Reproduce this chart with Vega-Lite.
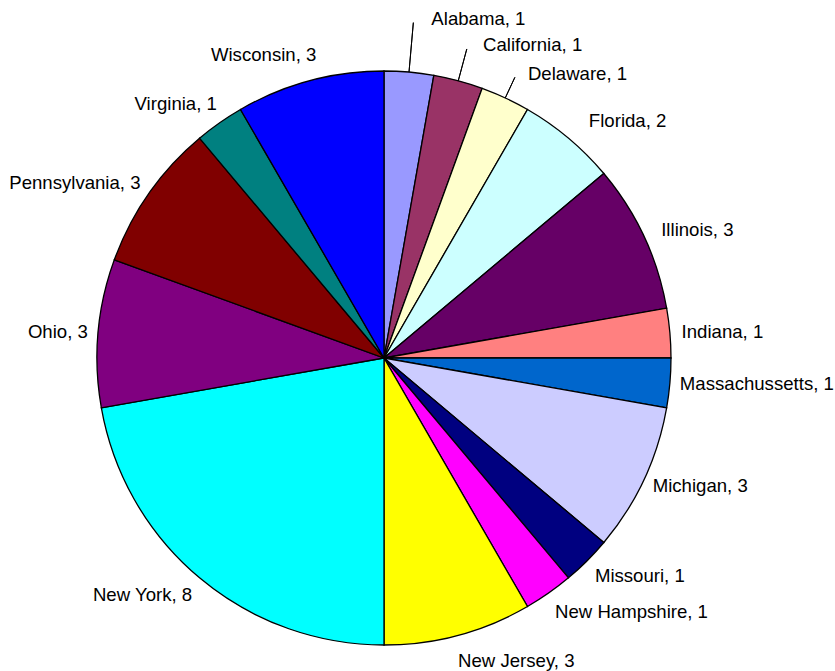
{
  "$schema": "https://vega.github.io/schema/vega-lite/v6.json",
  "width": 768,
  "height": 626,
  "autosize": "none",
  "padding": {"left": 0, "top": 45, "right": 67, "bottom": 0},
  "background": "white",
  "config": {"view": {"stroke": null}},
  "data": {
    "values": [
      {"state": "Alabama", "value": 1, "label": "Alabama, 1"},
      {"state": "California", "value": 1, "label": "California, 1"},
      {"state": "Delaware", "value": 1, "label": "Delaware, 1"},
      {"state": "Florida", "value": 2, "label": "Florida, 2"},
      {"state": "Illinois", "value": 3, "label": "Illinois, 3"},
      {"state": "Indiana", "value": 1, "label": "Indiana, 1"},
      {"state": "Massachussetts", "value": 1, "label": "Massachussetts, 1"},
      {"state": "Michigan", "value": 3, "label": "Michigan, 3"},
      {"state": "Missouri", "value": 1, "label": "Missouri, 1"},
      {"state": "New Hampshire", "value": 1, "label": "New Hampshire, 1"},
      {"state": "New Jersey", "value": 3, "label": "New Jersey, 3"},
      {"state": "New York", "value": 8, "label": "New York, 8"},
      {"state": "Ohio", "value": 3, "label": "Ohio, 3"},
      {"state": "Pennsylvania", "value": 3, "label": "Pennsylvania, 3"},
      {"state": "Virginia", "value": 1, "label": "Virginia, 1"},
      {"state": "Wisconsin", "value": 3, "label": "Wisconsin, 3"}
    ]
  },
  "layer": [
    {
      "mark": {"type": "arc", "outerRadius": 287, "stroke": "black", "strokeWidth": 1.3},
      "encoding": {
        "theta": {"field": "value", "type": "quantitative", "stack": true},
        "order": {"field": "state", "type": "ordinal", "sort": "ascending"},
        "color": {
          "field": "state",
          "type": "nominal",
          "legend": null,
          "scale": {
            "domain": ["Alabama", "California", "Delaware", "Florida", "Illinois", "Indiana", "Massachussetts", "Michigan", "Missouri", "New Hampshire", "New Jersey", "New York", "Ohio", "Pennsylvania", "Virginia", "Wisconsin"],
            "range": ["#9999FF", "#993366", "#FFFFCC", "#CCFFFF", "#660066", "#FF8080", "#0066CC", "#CCCCFF", "#000080", "#FF00FF", "#FFFF00", "#00FFFF", "#800080", "#800000", "#008080", "#0000FF"]
          }
        }
      }
    },
    {
      "transform": [
        {"stack": "value", "groupby": [], "sort": [{"field": "state", "order": "ascending"}], "as": ["s", "e"]},
        {"filter": "sin(PI*(datum.s+datum.e)/36) > 0 && cos(PI*(datum.s+datum.e)/36) > 0.85"}
      ],
      "mark": {
        "type": "arc",
        "theta": {"expr": "PI*(datum.s+datum.e)/36"},
        "theta2": {"expr": "PI*(datum.s+datum.e)/36"},
        "innerRadius": 287,
        "outerRadius": {"expr": "290 + 20*abs(cos(PI*(datum.s+datum.e)/36)) + 30*pow(cos(PI*(datum.s+datum.e)/36), 30)"},
        "fill": null,
        "stroke": "black",
        "strokeWidth": 1
      },
      "encoding": {}
    },
    {
      "mark": {
        "type": "text",
        "font": "Liberation Sans",
        "fontSize": 18.6,
        "fill": "black",
        "baseline": "middle",
        "radius": {"expr": "294 + 20*abs(cos(PI*(datum.value_start+datum.value_end)/36)) + ((sin(PI*(datum.value_start+datum.value_end)/36) > 0 && cos(PI*(datum.value_start+datum.value_end)/36) > 0) ? 30*pow(cos(PI*(datum.value_start+datum.value_end)/36), 30) : 0)"},
        "align": {"expr": "sin(PI*(datum.value_start+datum.value_end)/36) >= 0 ? 'left' : 'right'"},
        "dx": {"expr": "(sin(PI*(datum.value_start+datum.value_end)/36) >= 0 ? 3 : -3) + (cos(PI*(datum.value_start+datum.value_end)/36) > 0 ? (sin(PI*(datum.value_start+datum.value_end)/36) >= 0 ? 15*pow(cos(PI*(datum.value_start+datum.value_end)/36), 6) : 17*cos(PI*(datum.value_start+datum.value_end)/36)) : (sin(PI*(datum.value_start+datum.value_end)/36) >= 0 ? -10 : 10)*min(1, 2*abs(cos(PI*(datum.value_start+datum.value_end)/36))))"}
      },
      "encoding": {
        "theta": {"field": "value", "type": "quantitative", "stack": true},
        "order": {"field": "state", "type": "ordinal", "sort": "ascending"},
        "detail": {"field": "state", "type": "nominal"},
        "text": {"field": "label", "type": "nominal"}
      }
    }
  ]
}
